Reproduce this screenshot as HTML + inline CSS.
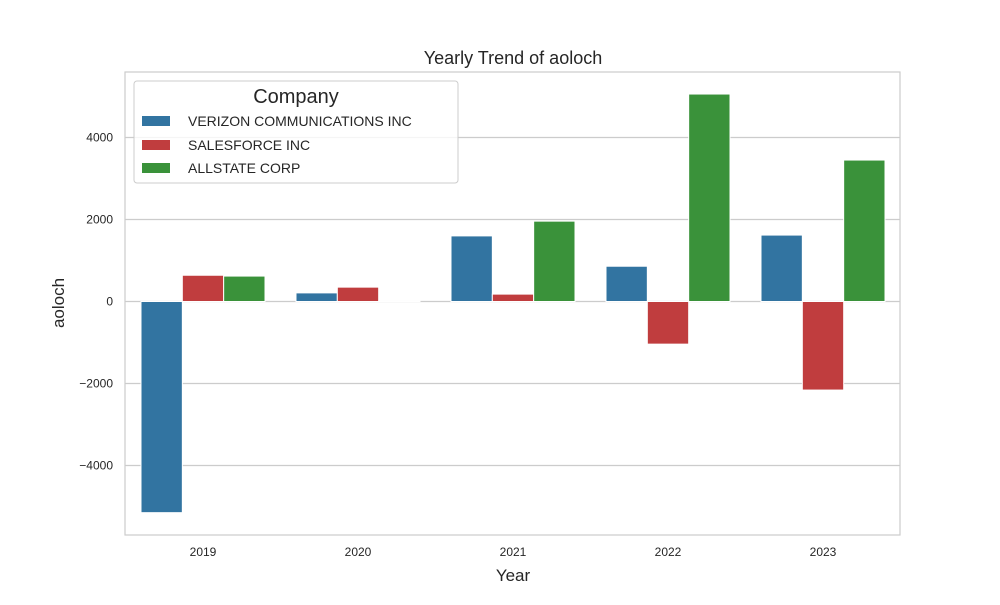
<!DOCTYPE html>
<html><head><meta charset="utf-8"><style>
body{margin:0;background:#fff}
text{font-family:"Liberation Sans","DejaVu Sans",sans-serif;fill:#262626}
</style></head><body>
<svg id="chart" width="1000" height="600">
<rect x="0" y="0" width="1000" height="600" fill="#fff"/>
<g id="grid"></g>
<g id="bars"></g>
<rect x="125" y="72" width="775" height="463" fill="none" stroke="#cccccc" stroke-width="1.2"/>
<g id="ticks"></g>
<text x="513" y="64" font-size="18" text-anchor="middle">Yearly Trend of aoloch</text>
<text x="513" y="581" font-size="17" text-anchor="middle">Year</text>
<text transform="translate(64,303) rotate(-90)" font-size="17" text-anchor="middle">aoloch</text>
<g>
<rect x="134" y="81" width="324" height="102" rx="3" fill="#fff" fill-opacity="0.8" stroke="#cccccc"/>
<text x="296" y="103" font-size="20" text-anchor="middle">Company</text>
<g><rect x="142" y="116" width="28" height="10" fill="#3274A1"/><text x="188" y="126" font-size="14">VERIZON COMMUNICATIONS INC</text></g>
<g><rect x="142" y="140" width="28" height="10" fill="#C03D3E"/><text x="188" y="150" font-size="14">SALESFORCE INC</text></g>
<g><rect x="142" y="163" width="28" height="10" fill="#3A923A"/><text x="188" y="173" font-size="14">ALLSTATE CORP</text></g>
</g>
</svg>
<script>
const years = ["2019","2020","2021","2022","2023"];
const verizon = [-5150, 210, 1600, 860, 1620];
const salesforce = [640, 350, 180, -1040, -2160];
const allstate = [620, 10, 1960, 5060, 3450];
const yTicks = [-4000, -2000, 0, 2000, 4000];
const yTickLabels = ["\u22124000", "\u22122000", "0", "2000", "4000"];
const seriesColors = ["#3274A1", "#C03D3E", "#3A923A"];
const seriesNames = ["verizon", "salesforce", "allstate"];
const NS = "http://www.w3.org/2000/svg";
const y = v => 301.5 - v * 0.041;
const xc = i => 203 + i * 155;
const grid = document.getElementById("grid"), bars = document.getElementById("bars"), ticks = document.getElementById("ticks");
function mk(tag, attrs, parent){const e=document.createElementNS(NS,tag);for(const k in attrs)e.setAttribute(k,attrs[k]);parent.appendChild(e);return e;}
yTicks.forEach((t,i)=>{
  const l = mk("line",{x1:125,x2:900,y1:y(t),y2:y(t),stroke:"#cccccc","stroke-width":1.2},grid);
  
  
  const tx = mk("text",{x:113,y:y(t)+4,"font-size":12,"text-anchor":"end"},ticks);
  tx.textContent = yTickLabels[i];
  
  
});
years.forEach((yr,i)=>{
  const tx = mk("text",{x:xc(i),y:556,"font-size":12,"text-anchor":"middle"},ticks);
  tx.textContent = yr;
  
  
});
const bw = 124/3;
[verizon, salesforce, allstate].forEach((s,si)=>{
  s.forEach((v,i)=>{
    const x0 = xc(i) - 62 + si*bw;
    const r = mk("rect",{x:x0,y:Math.min(y(v),y(0)),width:bw,height:Math.abs(y(v)-y(0)),fill:seriesColors[si],stroke:"#fff","stroke-width":1},bars);
    
    
  });
});
</script>
</body></html>
